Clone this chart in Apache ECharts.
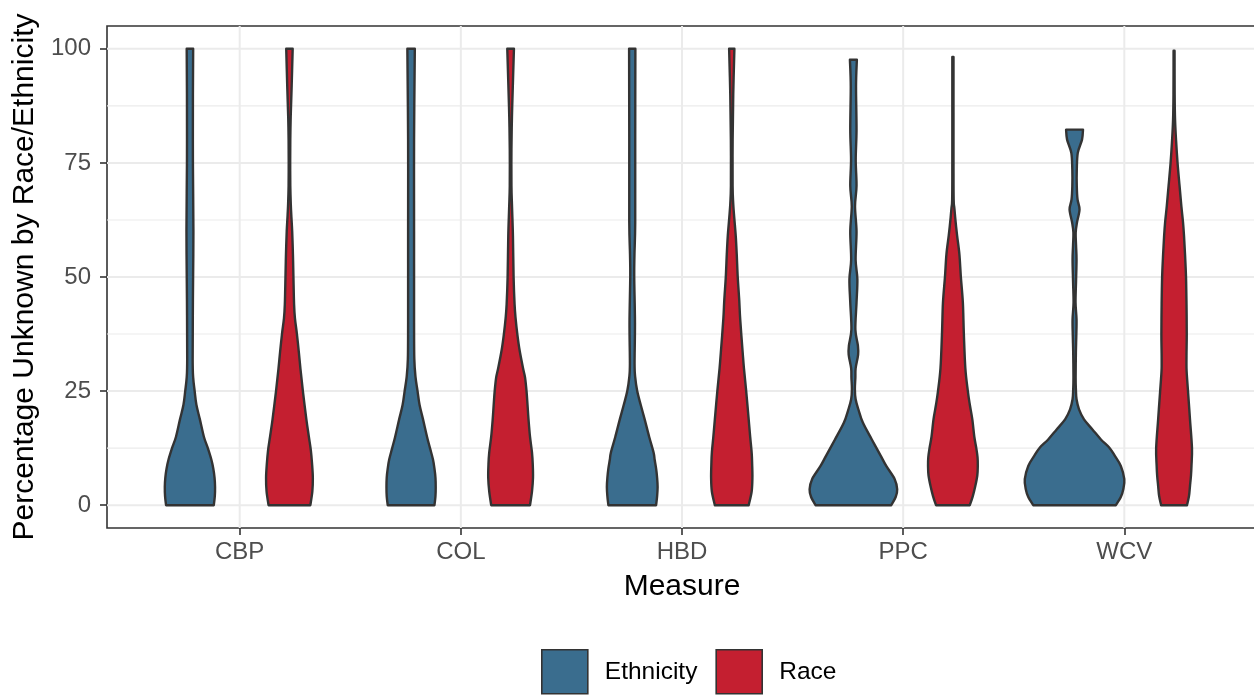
<!DOCTYPE html>
<html>
<head>
<meta charset="utf-8">
<script src="https://cdn.jsdelivr.net/npm/echarts@6/dist/echarts.min.js"></script>
<style>
html,body{margin:0;padding:0;background:#fff;overflow:hidden;width:1254px;height:696px;}
#chart{width:1280px;height:696px;}
</style>
</head>
<body>
<div id="chart"></div>
<script>
// ---- Data ----
const categories = ['CBP', 'COL', 'HBD', 'PPC', 'WCV'];
const groups = ['Ethnicity', 'Race'];
const yTickValues = [0, 25, 50, 75, 100];
const yMinorValues = [12.5, 37.5, 62.5, 87.5];

// Violin profiles: [percentage, relative width (fraction of the dodge slot)]
const ethnicityCBP = [[0,0.48],[2,0.50],[4,0.505],[6,0.495],[8,0.47],[10,0.43],[12.5,0.36],[15,0.28],[18.8,0.2],[22,0.13],[25,0.095],[28,0.065],[32,0.055],[45,0.06],[60,0.07],[75,0.06],[90,0.06],[100,0.065]];
const raceCBP = [[0,0.42],[3,0.46],[6,0.47],[9,0.455],[12,0.43],[15,0.39],[18.8,0.34],[25,0.27],[30,0.22],[33.4,0.19],[37.5,0.15],[41,0.11],[44,0.093],[50,0.08],[55,0.07],[60,0.055],[63,0.04],[66,0.027],[70,0.017],[75,0.015],[80,0.017],[85,0.025],[92,0.045],[100,0.065]];
const ethnicityCOL = [[0,0.47],[2,0.49],[4,0.495],[6,0.49],[8,0.47],[10,0.44],[12.5,0.38],[15,0.32],[18.8,0.24],[22,0.17],[25,0.13],[28,0.09],[32,0.065],[40,0.06],[60,0.06],[80,0.06],[100,0.075]];
const raceCOL = [[0,0.39],[3,0.43],[6,0.45],[9,0.445],[11.5,0.43],[15,0.39],[18.8,0.36],[22,0.34],[25,0.32],[28,0.29],[30,0.25],[34,0.18],[37.5,0.135],[41,0.1],[44,0.08],[50,0.06],[59,0.047],[65,0.03],[70,0.017],[78,0.017],[85,0.027],[92,0.045],[100,0.067]];
const ethnicityHBD = [[0,0.48],[2,0.50],[4,0.51],[6,0.50],[8,0.48],[10,0.45],[11.5,0.43],[15,0.34],[18.8,0.25],[22,0.17],[25,0.10],[28,0.06],[31,0.047],[40,0.055],[50,0.04],[55,0.045],[62,0.06],[80,0.06],[100,0.063]];
const raceHBD = [[0,0.34],[3,0.40],[6,0.415],[9,0.41],[11.5,0.40],[15,0.37],[18.8,0.34],[25,0.29],[30,0.245],[33.4,0.22],[40.7,0.17],[45,0.15],[50,0.12],[55,0.10],[59,0.08],[63,0.05],[66,0.03],[70,0.017],[80,0.018],[90,0.03],[100,0.053]];
const ethnicityPPC = [[0,0.76],[1.8,0.85],[3.5,0.88],[5.7,0.83],[8.6,0.66],[10.8,0.55],[14.4,0.37],[18.1,0.19],[21,0.10],[23.2,0.045],[25.4,0.03],[28,0.04],[30,0.045],[33,0.095],[35,0.09],[38.5,0.04],[44.4,0.063],[49.5,0.08],[53.8,0.045],[60,0.063],[65.5,0.033],[70,0.063],[75.7,0.047],[82.3,0.063],[91.8,0.053],[97.6,0.07]];
const racePPC = [[0,0.34],[2,0.40],[4.2,0.45],[6.5,0.49],[8.6,0.50],[10.5,0.495],[12.5,0.47],[15,0.43],[18.8,0.39],[22,0.34],[25,0.30],[30,0.25],[37.5,0.22],[44.4,0.20],[50,0.16],[55,0.13],[59,0.085],[62,0.055],[65,0.03],[67,0.015],[75,0.012],[98.2,0.012]];
const ethnicityWCV = [[0,0.83],[1.8,0.93],[3.5,0.98],[5.7,1.0],[8.6,0.93],[10.8,0.81],[12.6,0.70],[14.4,0.53],[16.6,0.36],[18.8,0.19],[21,0.09],[23.2,0.04],[25.4,0.027],[28,0.022],[33.4,0.027],[37,0.035],[40.7,0.04],[44.4,0.02],[49,0.03],[53.8,0.04],[57,0.03],[59.7,0.023],[62,0.05],[64.8,0.10],[67,0.06],[69.9,0.045],[73.5,0.045],[77.2,0.065],[80.1,0.15],[82.3,0.17]];
const raceWCV = [[0,0.26],[2,0.30],[4.2,0.32],[6.5,0.34],[8.6,0.35],[12.5,0.36],[18.8,0.32],[25,0.28],[28,0.26],[30,0.25],[33,0.25],[37.5,0.255],[44,0.25],[50,0.24],[55,0.22],[59,0.20],[62,0.18],[65.5,0.147],[70,0.11],[75,0.07],[80,0.04],[84.5,0.02],[90,0.012],[99.6,0.01]];

const ethnicityProfiles = [ethnicityCBP, ethnicityCOL, ethnicityHBD, ethnicityPPC, ethnicityWCV];
const raceProfiles = [raceCBP, raceCOL, raceHBD, racePPC, raceWCV];

// ---- Style ----
const groupColors = ['#3A6D8E', '#C41F30'];
const outline = '#333333';
const dodge = 0.225;   // half of the 0.9 category width
const slotUnits = 0.45;
const FONT = '"Liberation Sans", Arial, Helvetica, sans-serif';

function spline(pts) {
  let d = '';
  const n = pts.length;
  for (let i = 0; i < n - 1; i++) {
    const p0 = pts[Math.max(i - 1, 0)], p1 = pts[i], p2 = pts[i + 1], p3 = pts[Math.min(i + 2, n - 1)];
    const c1 = [p1[0] + (p2[0] - p0[0]) / 6, p1[1] + (p2[1] - p0[1]) / 6];
    const c2 = [p2[0] - (p3[0] - p1[0]) / 6, p2[1] - (p3[1] - p1[1]) / 6];
    d += 'C' + c1[0] + ',' + c1[1] + ' ' + c2[0] + ',' + c2[1] + ' ' + p2[0] + ',' + p2[1];
  }
  return d;
}

function violinRenderer(profiles, offset, color) {
  return function (params, api) {
    const prof = profiles[params.dataIndex];
    const pos = api.value(0);
    const cx = api.coord([pos + offset, 0])[0];
    const slot = api.size([slotUnits, 0])[0];
    const left = prof.map(p => [cx - p[1] * slot / 2, api.coord([pos, p[0]])[1]]);
    const right = prof.map(p => [cx + p[1] * slot / 2, api.coord([pos, p[0]])[1]]).reverse();
    const d = 'M' + left[0][0] + ',' + left[0][1] + spline(left) +
      'L' + right[0][0] + ',' + right[0][1] + spline(right) + 'Z';
    return {
      type: 'path',
      shape: { pathData: d },
      style: { fill: color, stroke: outline, lineWidth: 2.4, lineJoin: 'round' }
    };
  };
}

function hLineRenderer(width) {
  return function (params, api) {
    const cs = params.coordSys;
    const y = api.coord([1, api.value(1)])[1];
    return { type: 'line', silent: true,
      shape: { x1: cs.x, y1: y, x2: cs.x + cs.width, y2: y },
      style: { stroke: '#EBEBEB', lineWidth: width } };
  };
}
function vLineRenderer(params, api) {
  const cs = params.coordSys;
  const x = api.coord([api.value(0), 0])[0];
  return { type: 'line', silent: true,
    shape: { x1: x, y1: cs.y, x2: x, y2: cs.y + cs.height },
    style: { stroke: '#EBEBEB', lineWidth: 2 } };
}

const catPositions = categories.map((c, i) => i + 1);

const chart = echarts.init(document.getElementById('chart'), null, { renderer: 'canvas' });
chart.setOption({
  animation: false,
  backgroundColor: '#ffffff',
  textStyle: { fontFamily: FONT },
  grid: {
    left: 107, right: 23, top: 26, bottom: 168,
    show: true, borderColor: '#333333', borderWidth: 1.6, backgroundColor: 'transparent'
  },
  legend: {
    data: groups,
    left: 536, top: 644,
    icon: 'rect',
    itemWidth: 46, itemHeight: 44, itemGap: 18,
    itemStyle: { borderColor: '#333333', borderWidth: 1.6 },
    textStyle: { fontSize: 24.5, color: '#000', fontFamily: FONT, padding: [0, 0, 0, 12] }
  },
  xAxis: {
    type: 'value', min: 0.4, max: 5.6,
    name: 'Measure', nameLocation: 'middle', nameGap: 44,
    nameTextStyle: { fontSize: 30, color: '#000', fontFamily: FONT },
    axisLine: { show: false, onZero: false },
    axisTick: { show: true, length: 7, customValues: catPositions, lineStyle: { color: '#333333', width: 1.6 } },
    axisLabel: { customValues: catPositions, margin: 12, fontSize: 24, color: '#4D4D4D', fontFamily: FONT,
      formatter: v => categories[Math.round(v) - 1] || '' },
    splitLine: { show: false }
  },
  yAxis: {
    type: 'value', min: -5, max: 105,
    name: 'Percentage Unknown by Race/Ethnicity', nameLocation: 'middle', nameGap: 58,
    nameTextStyle: { fontSize: 30, color: '#000', fontFamily: FONT },
    axisLine: { show: false, onZero: false },
    axisTick: { show: true, length: 7, customValues: yTickValues, lineStyle: { color: '#333333', width: 1.6 } },
    axisLabel: { customValues: yTickValues, margin: 16, fontSize: 24, color: '#4D4D4D', fontFamily: FONT },
    splitLine: { show: false }
  },
  series: [
    { type: 'custom', name: 'minorGrid', silent: true, z: 1, renderItem: hLineRenderer(1.1),
      data: yMinorValues.map(v => [1, v]), encode: { x: 0, y: 1 } },
    { type: 'custom', name: 'majorGrid', silent: true, z: 1, renderItem: hLineRenderer(2),
      data: yTickValues.map(v => [1, v]), encode: { x: 0, y: 1 } },
    { type: 'custom', name: 'xGrid', silent: true, z: 1, renderItem: vLineRenderer,
      data: catPositions.map(p => [p, 0]), encode: { x: 0, y: 1 } },
    { type: 'custom', name: groups[0], z: 3, itemStyle: { color: groupColors[0] },
      renderItem: violinRenderer(ethnicityProfiles, -dodge, groupColors[0]),
      data: catPositions.map(p => [p, 0]), encode: { x: 0, y: 1 } },
    { type: 'custom', name: groups[1], z: 3, itemStyle: { color: groupColors[1] },
      renderItem: violinRenderer(raceProfiles, dodge, groupColors[1]),
      data: catPositions.map(p => [p, 0]), encode: { x: 0, y: 1 } }
  ]
});
</script>
</body>
</html>
